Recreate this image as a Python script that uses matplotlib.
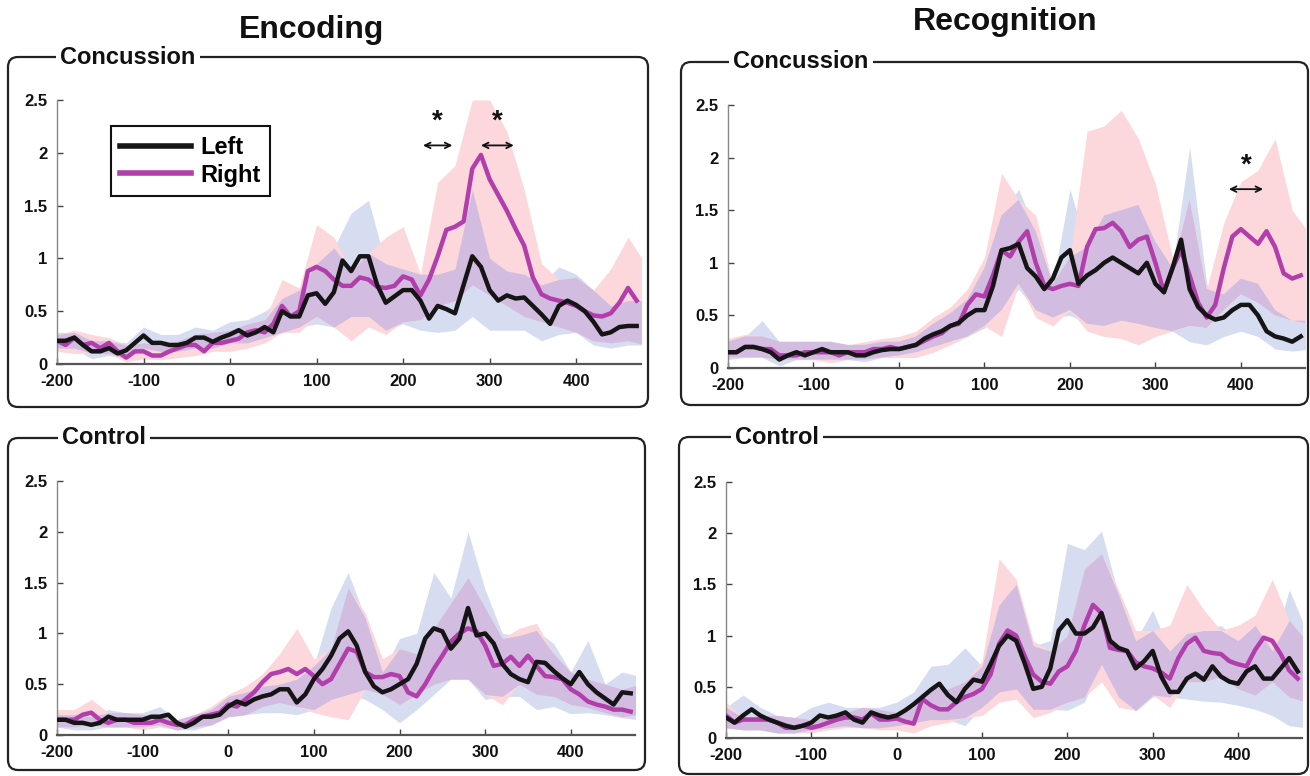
import numpy as np
import matplotlib
matplotlib.use("Agg")
import matplotlib.pyplot as plt
from matplotlib.patches import FancyBboxPatch

plt.rcParams['axes.unicode_minus'] = False

W, H = 1310, 776
NARROW = ['Liberation Sans Narrow', 'Liberation Sans', 'DejaVu Sans']
WIDE = ['Liberation Sans', 'DejaVu Sans']

# time axes (ms)
t_line = np.arange(-200, 480, 10)
t_band = np.arange(-200, 500, 20)

# ---- Encoding / Concussion
enc_con_left = [0.22, 0.22, 0.25, 0.18, 0.12, 0.12, 0.15, 0.10, 0.13, 0.20,
                0.27, 0.20, 0.20, 0.18, 0.18, 0.20, 0.25, 0.25, 0.21, 0.25,
                0.28, 0.32, 0.27, 0.30, 0.35, 0.30, 0.50, 0.45, 0.45, 0.65,
                0.67, 0.57, 0.68, 0.98, 0.88, 1.02, 1.02, 0.75, 0.58, 0.64,
                0.70, 0.70, 0.60, 0.43, 0.55, 0.52, 0.48, 0.75, 1.02, 0.92,
                0.70, 0.60, 0.65, 0.62, 0.63, 0.55, 0.47, 0.38, 0.55, 0.60,
                0.56, 0.50, 0.40, 0.28, 0.30, 0.35, 0.36, 0.36]
enc_con_right = [0.22, 0.18, 0.25, 0.18, 0.20, 0.15, 0.20, 0.12, 0.06, 0.12,
                 0.12, 0.08, 0.08, 0.12, 0.15, 0.18, 0.18, 0.12, 0.20, 0.20,
                 0.22, 0.24, 0.30, 0.32, 0.30, 0.38, 0.55, 0.45, 0.50, 0.88,
                 0.92, 0.88, 0.80, 0.74, 0.74, 0.82, 0.80, 0.73, 0.72, 0.74,
                 0.83, 0.80, 0.65, 0.80, 1.02, 1.27, 1.30, 1.35, 1.85, 1.98,
                 1.75, 1.60, 1.45, 1.28, 1.12, 0.82, 0.66, 0.62, 0.60, 0.58,
                 0.55, 0.50, 0.46, 0.45, 0.48, 0.58, 0.72, 0.60]
enc_con_left_hi = [0.30, 0.30, 0.22, 0.22, 0.20, 0.35, 0.28, 0.28, 0.35, 0.32,
                   0.40, 0.42, 0.50, 0.62, 0.70, 0.95, 1.10, 1.43, 1.55, 0.95,
                   0.90, 0.85, 0.85, 0.90, 1.65, 1.00, 0.88, 0.85, 0.75, 0.92,
                   0.85, 0.70, 0.55, 0.60, 0.60]
enc_con_left_lo = [0.15, 0.15, 0.05, 0.08, 0.05, 0.15, 0.12, 0.12, 0.15, 0.15,
                   0.20, 0.20, 0.25, 0.30, 0.35, 0.38, 0.35, 0.45, 0.45, 0.32,
                   0.38, 0.32, 0.30, 0.32, 0.45, 0.32, 0.32, 0.32, 0.22, 0.28,
                   0.30, 0.18, 0.15, 0.18, 0.18]
enc_con_right_hi = [0.28, 0.32, 0.28, 0.25, 0.18, 0.20, 0.18, 0.22, 0.28, 0.30,
                    0.32, 0.38, 0.42, 0.80, 0.72, 1.32, 1.20, 0.88, 1.05, 1.20,
                    1.30, 0.85, 1.72, 1.88, 2.50, 2.50, 2.20, 1.65, 0.95, 0.80,
                    0.82, 0.70, 0.90, 1.20, 0.95]
enc_con_right_lo = [0.12, 0.10, 0.10, 0.10, 0.02, 0.05, 0.04, 0.06, 0.08, 0.12,
                    0.12, 0.15, 0.20, 0.30, 0.30, 0.45, 0.35, 0.22, 0.35, 0.28,
                    0.40, 0.42, 0.55, 0.60, 0.75, 0.65, 0.55, 0.45, 0.40, 0.35,
                    0.30, 0.22, 0.20, 0.22, 0.18]

# ---- Recognition / Concussion
rec_con_left = [0.15, 0.15, 0.20, 0.20, 0.18, 0.15, 0.08, 0.12, 0.15, 0.12,
                0.15, 0.18, 0.15, 0.15, 0.15, 0.12, 0.12, 0.15, 0.17, 0.18,
                0.18, 0.20, 0.22, 0.28, 0.32, 0.35, 0.40, 0.43, 0.50, 0.55,
                0.55, 0.78, 1.12, 1.14, 1.18, 0.95, 0.87, 0.75, 0.85, 1.05,
                1.12, 0.80, 0.88, 0.93, 1.00, 1.05, 1.00, 0.95, 0.90, 1.00,
                0.80, 0.72, 0.95, 1.22, 0.75, 0.58, 0.50, 0.46, 0.48, 0.55,
                0.60, 0.60, 0.50, 0.35, 0.30, 0.28, 0.25, 0.30]
rec_con_right = [0.15, 0.15, 0.20, 0.20, 0.18, 0.18, 0.12, 0.12, 0.12, 0.15,
                 0.15, 0.15, 0.15, 0.12, 0.15, 0.15, 0.15, 0.18, 0.18, 0.20,
                 0.18, 0.20, 0.22, 0.26, 0.30, 0.33, 0.40, 0.42, 0.60, 0.70,
                 0.68, 0.88, 1.12, 1.06, 1.20, 1.30, 1.00, 0.78, 0.75, 0.78,
                 0.80, 0.78, 1.15, 1.32, 1.33, 1.38, 1.30, 1.15, 1.22, 1.25,
                 1.00, 0.72, 0.95, 1.12, 0.88, 0.62, 0.48, 0.60, 0.95, 1.25,
                 1.32, 1.25, 1.18, 1.30, 1.15, 0.90, 0.85, 0.88]
rec_con_left_hi = [0.25, 0.30, 0.45, 0.25, 0.25, 0.25, 0.25, 0.22, 0.22, 0.25,
                   0.25, 0.30, 0.42, 0.52, 0.65, 0.95, 1.45, 1.70, 1.30, 0.80,
                   1.70, 1.15, 1.45, 1.50, 1.55, 1.20, 0.95, 2.10, 0.80, 0.70,
                   0.85, 0.80, 0.55, 0.45, 0.45]
rec_con_left_lo = [0.08, 0.10, 0.10, 0.02, 0.08, 0.08, 0.08, 0.08, 0.06, 0.10,
                   0.12, 0.15, 0.20, 0.25, 0.30, 0.38, 0.55, 0.75, 0.55, 0.48,
                   0.50, 0.42, 0.40, 0.45, 0.42, 0.38, 0.35, 0.25, 0.22, 0.30,
                   0.35, 0.30, 0.18, 0.16, 0.18]
rec_con_right_hi = [0.28, 0.32, 0.30, 0.25, 0.25, 0.25, 0.25, 0.22, 0.25, 0.28,
                    0.30, 0.35, 0.48, 0.58, 0.75, 1.05, 1.85, 1.60, 1.45, 0.80,
                    1.05, 2.25, 2.30, 2.45, 2.18, 1.75, 1.05, 1.60, 0.75, 1.38,
                    1.77, 1.88, 2.18, 1.50, 1.28]
rec_con_right_lo = [0.10, 0.10, 0.10, 0.08, 0.08, 0.08, 0.05, 0.08, 0.08, 0.10,
                    0.10, 0.10, 0.15, 0.22, 0.30, 0.40, 0.30, 0.80, 0.48, 0.40,
                    0.55, 0.35, 0.30, 0.28, 0.22, 0.30, 0.35, 0.40, 0.38, 0.55,
                    0.70, 0.62, 0.50, 0.45, 0.42]

# ---- Encoding / Control
enc_ctl_left = [0.15, 0.15, 0.12, 0.12, 0.10, 0.12, 0.18, 0.15, 0.15, 0.15,
                0.15, 0.18, 0.18, 0.20, 0.12, 0.08, 0.12, 0.18, 0.18, 0.20,
                0.28, 0.33, 0.30, 0.35, 0.38, 0.40, 0.45, 0.45, 0.32, 0.40,
                0.55, 0.65, 0.78, 0.95, 1.02, 0.88, 0.62, 0.48, 0.42, 0.45,
                0.50, 0.55, 0.70, 0.95, 1.05, 1.02, 0.85, 0.95, 1.25, 0.98,
                1.00, 0.90, 0.70, 0.60, 0.55, 0.52, 0.72, 0.71, 0.63, 0.56,
                0.50, 0.62, 0.50, 0.42, 0.36, 0.30, 0.42, 0.41]
enc_ctl_right = [0.15, 0.15, 0.15, 0.20, 0.22, 0.15, 0.12, 0.15, 0.15, 0.12,
                 0.12, 0.12, 0.15, 0.12, 0.10, 0.10, 0.15, 0.18, 0.20, 0.22,
                 0.30, 0.28, 0.35, 0.42, 0.52, 0.60, 0.62, 0.65, 0.60, 0.65,
                 0.58, 0.50, 0.55, 0.70, 0.85, 0.82, 0.62, 0.57, 0.57, 0.60,
                 0.58, 0.42, 0.38, 0.50, 0.65, 0.78, 0.92, 1.00, 1.05, 1.02,
                 0.88, 0.68, 0.70, 0.77, 0.68, 0.78, 0.68, 0.58, 0.57, 0.55,
                 0.45, 0.40, 0.33, 0.30, 0.28, 0.25, 0.25, 0.23]
enc_ctl_left_hi = [0.20, 0.20, 0.18, 0.25, 0.22, 0.22, 0.28, 0.15, 0.20, 0.25,
                   0.38, 0.42, 0.48, 0.50, 0.55, 0.68, 1.25, 1.60, 1.15, 0.62,
                   0.95, 1.00, 1.60, 1.35, 2.00, 1.43, 1.00, 0.98, 1.03, 0.90,
                   0.62, 0.93, 0.50, 0.62, 0.58]
enc_ctl_left_lo = [0.08, 0.05, 0.05, 0.08, 0.08, 0.08, 0.10, 0.05, 0.05, 0.10,
                   0.18, 0.20, 0.22, 0.22, 0.20, 0.25, 0.35, 0.40, 0.35, 0.25,
                   0.12, 0.25, 0.40, 0.55, 0.55, 0.35, 0.38, 0.38, 0.25, 0.28,
                   0.21, 0.22, 0.20, 0.17, 0.15]
enc_ctl_right_hi = [0.25, 0.25, 0.35, 0.22, 0.22, 0.20, 0.20, 0.15, 0.20, 0.28,
                    0.40, 0.48, 0.60, 0.80, 1.05, 0.75, 0.85, 1.45, 1.20, 0.75,
                    0.85, 0.80, 1.05, 1.30, 1.55, 1.25, 0.95, 1.05, 1.10, 0.80,
                    0.62, 0.55, 0.50, 0.45, 0.50]
enc_ctl_right_lo = [0.08, 0.08, 0.10, 0.08, 0.08, 0.05, 0.08, 0.05, 0.08, 0.10,
                    0.18, 0.20, 0.28, 0.32, 0.28, 0.22, 0.18, 0.15, 0.45, 0.40,
                    0.30, 0.40, 0.50, 0.55, 0.55, 0.40, 0.30, 0.50, 0.40, 0.38,
                    0.30, 0.27, 0.22, 0.18, 0.20]

# ---- Recognition / Control
rec_ctl_left = [0.20, 0.15, 0.22, 0.28, 0.22, 0.18, 0.15, 0.12, 0.10, 0.12,
                0.15, 0.22, 0.20, 0.22, 0.25, 0.18, 0.15, 0.25, 0.22, 0.20,
                0.22, 0.27, 0.33, 0.40, 0.47, 0.53, 0.42, 0.35, 0.48, 0.57,
                0.55, 0.72, 0.90, 1.00, 0.95, 0.73, 0.48, 0.50, 0.68, 1.05,
                1.15, 1.02, 1.02, 1.08, 1.22, 0.95, 0.88, 0.85, 0.68, 0.75,
                0.85, 0.60, 0.45, 0.45, 0.58, 0.63, 0.57, 0.70, 0.60, 0.55,
                0.53, 0.65, 0.70, 0.58, 0.58, 0.68, 0.78, 0.65]
rec_ctl_right = [0.22, 0.15, 0.18, 0.18, 0.18, 0.18, 0.15, 0.10, 0.10, 0.12,
                 0.10, 0.12, 0.15, 0.18, 0.20, 0.20, 0.18, 0.24, 0.18, 0.18,
                 0.19, 0.16, 0.14, 0.38, 0.32, 0.28, 0.28, 0.35, 0.40, 0.43,
                 0.48, 0.62, 0.92, 1.05, 1.00, 0.80, 0.62, 0.55, 0.53, 0.65,
                 0.70, 0.85, 1.10, 1.30, 1.22, 0.88, 0.86, 0.85, 0.74, 0.70,
                 0.68, 0.64, 0.58, 0.78, 0.92, 0.98, 0.85, 0.83, 0.82, 0.75,
                 0.72, 0.70, 0.86, 0.98, 0.95, 0.82, 0.66, 0.58]
rec_ctl_left_hi = [0.30, 0.42, 0.30, 0.22, 0.20, 0.30, 0.35, 0.30, 0.30, 0.30,
                   0.35, 0.45, 0.70, 0.72, 0.88, 0.70, 1.30, 1.50, 0.90, 0.95,
                   1.90, 1.84, 2.02, 1.40, 0.95, 1.25, 0.85, 1.02, 1.05, 1.10,
                   0.95, 1.10, 0.85, 1.45, 1.05]
rec_ctl_left_lo = [0.10, 0.08, 0.08, 0.05, 0.05, 0.08, 0.10, 0.12, 0.10, 0.10,
                   0.12, 0.15, 0.18, 0.18, 0.12, 0.30, 0.45, 0.48, 0.28, 0.28,
                   0.27, 0.35, 0.72, 0.40, 0.26, 0.40, 0.40, 0.38, 0.36, 0.35,
                   0.32, 0.28, 0.22, 0.12, 0.10]
rec_ctl_right_hi = [0.35, 0.20, 0.22, 0.22, 0.20, 0.18, 0.20, 0.25, 0.30, 0.28,
                    0.25, 0.30, 0.50, 0.48, 0.55, 0.75, 1.75, 1.55, 0.95, 0.85,
                    1.00, 1.65, 1.80, 1.45, 1.05, 1.05, 1.10, 1.50, 1.25, 1.05,
                    1.10, 1.20, 1.55, 1.15, 0.95]
rec_ctl_right_lo = [0.10, 0.08, 0.08, 0.05, 0.05, 0.05, 0.08, 0.10, 0.10, 0.08,
                    0.08, 0.05, 0.12, 0.15, 0.20, 0.22, 0.35, 0.38, 0.20, 0.25,
                    0.35, 0.40, 0.55, 0.30, 0.27, 0.42, 0.30, 0.55, 0.55, 0.60,
                    0.48, 0.42, 0.55, 0.40, 0.35]

x_ticks = [-200, -100, 0, 100, 200, 300, 400]
y_ticks = [0, 0.5, 1, 1.5, 2, 2.5]
y_ticklabels = ['0', '0.5', '1', '1.5', '2', '2.5']

C_LEFT = '#151515'
C_RIGHT = '#b23eac'
C_BLUE = '#d6ddf0'
C_PINK = '#fcd7db'
C_BOTH = '#d2bde0'

fig = plt.figure(figsize=(W / 100, H / 100), dpi=100)


def add_box(x0, y0, x1, y1, label, lx):
    # rounded frame drawn in inches, coordinates given in pixels
    box = FancyBboxPatch((x0 / 100, (H - y1) / 100), (x1 - x0) / 100, (y1 - y0) / 100,
                         boxstyle="round,pad=0,rounding_size=0.1",
                         transform=fig.dpi_scale_trans, fill=False,
                         edgecolor='#222222', linewidth=1.6, zorder=0)
    fig.patches.append(box)
    fig.text(lx / W, 1 - y0 / H, label, family=NARROW, fontweight='bold',
             fontsize=17, va='center', ha='left', color='#111111',
             bbox=dict(facecolor='white', edgecolor='none', pad=3))


def panel(l, r, bottom, top, left, right, lhi, llo, rhi, rlo):
    ax = fig.add_axes([l / W, 1 - bottom / H, (r - l) / W, (bottom - top) / H])
    lhi, llo, rhi, rlo = map(np.array, (lhi, llo, rhi, rlo))
    ax.fill_between(t_band, llo, lhi, color=C_BLUE, lw=0, zorder=1)
    ax.fill_between(t_band, rlo, rhi, color=C_PINK, lw=0, zorder=1)
    both_lo = np.maximum(llo, rlo)
    both_hi = np.minimum(lhi, rhi)
    ax.fill_between(t_band, both_lo, both_hi, where=both_hi > both_lo,
                    interpolate=True, color=C_BOTH, lw=0, zorder=2)
    l1, = ax.plot(t_line, left, color=C_LEFT, lw=3.2, zorder=4)
    l2, = ax.plot(t_line, right, color=C_RIGHT, lw=3.2, zorder=3)
    ax.set_xlim(-200, 475)
    ax.set_ylim(0, 2.5)
    ax.set_xticks(x_ticks)
    ax.set_yticks(y_ticks)
    ax.set_yticklabels(y_ticklabels)
    for s in ('top', 'right'):
        ax.spines[s].set_visible(False)
    ax.spines['bottom'].set_color('#555555')
    ax.spines['bottom'].set_linewidth(1.6)
    ax.spines['left'].set_color('#888888')
    ax.spines['left'].set_linewidth(1.0)
    ax.tick_params(direction='in', length=4, width=1, colors='#444444')
    ax.tick_params(axis='x', pad=7)
    ax.tick_params(axis='y', pad=7)
    for lab in ax.get_xticklabels() + ax.get_yticklabels():
        lab.set_family(NARROW)
        lab.set_fontweight('bold')
        lab.set_fontsize(12)
        lab.set_color('#111111')
    ax.set_facecolor('none')
    return ax, l1, l2


def star(ax, x0, x1, y):
    ax.annotate('', xy=(x0, y), xytext=(x1, y),
                arrowprops=dict(arrowstyle='<->', color='#111111', lw=1.3,
                                shrinkA=0, shrinkB=0), zorder=6)
    ax.text((x0 + x1) / 2, y + 0.1, '*', ha='center', va='bottom',
            fontsize=20, fontweight='bold', family=WIDE, color='#111111')


# boxes and labels
add_box(8, 57, 648, 407, 'Concussion', 60)
add_box(681, 62, 1308, 405, 'Concussion', 733)
add_box(8, 438, 645, 770, 'Control', 62)
add_box(679, 437, 1308, 774, 'Control', 735)

ax1, h1, h2 = panel(57, 641, 364, 100, enc_con_left, enc_con_right,
                    enc_con_left_hi, enc_con_left_lo, enc_con_right_hi, enc_con_right_lo)
ax1.legend([h1, h2], ['Left', 'Right'], loc='upper left', bbox_to_anchor=(0.092, 0.9),
           borderaxespad=0, frameon=True, fancybox=False, edgecolor='#111111',
           framealpha=1, handlelength=3.0, handletextpad=0.4, labelspacing=0.2,
           borderpad=0.4, prop=dict(family=NARROW, weight='bold', size=17))
ax1.get_legend().get_frame().set_linewidth(1.5)
for ln in ax1.get_legend().get_lines():
    ln.set_linewidth(4)
star(ax1, 223, 257, 2.07)
star(ax1, 290, 328, 2.07)

ax2, _, _ = panel(728, 1305, 368, 105, rec_con_left, rec_con_right,
                  rec_con_left_hi, rec_con_left_lo, rec_con_right_hi, rec_con_right_lo)
star(ax2, 386, 426, 1.7)

panel(57, 635, 735, 481, enc_ctl_left, enc_ctl_right,
      enc_ctl_left_hi, enc_ctl_left_lo, enc_ctl_right_hi, enc_ctl_right_lo)
panel(726, 1302, 738, 482, rec_ctl_left, rec_ctl_right,
      rec_ctl_left_hi, rec_ctl_left_lo, rec_ctl_right_hi, rec_ctl_right_lo)

fig.text(312 / W, 1 - 30 / H, 'Encoding', family=WIDE, fontweight='bold',
         fontsize=23, ha='center', va='center', color='#111111')
fig.text(1005 / W, 1 - 22 / H, 'Recognition', family=WIDE, fontweight='bold',
         fontsize=23, ha='center', va='center', color='#111111')

fig.savefig('out.png', dpi=100, facecolor='white')
